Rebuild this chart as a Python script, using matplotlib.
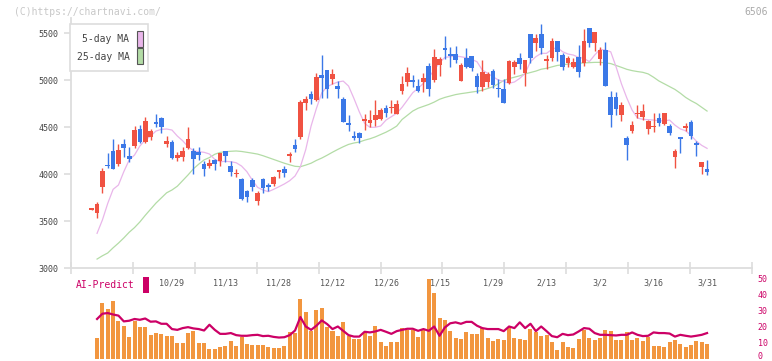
import numpy as np
import matplotlib
matplotlib.use("Agg")
import matplotlib.pyplot as plt
from matplotlib.patches import Rectangle
from matplotlib.transforms import blended_transform_factory, ScaledTranslation

# ==========================
# Data
# ==========================
opens = [3620, 3580, 3865, 4095, 4245, 4105, 4320, 4190, 4300, 4480,
         4340, 4395, 4555, 4600, 4320, 4345, 4175, 4185, 4280, 4245,
         4235, 4105, 4090, 4150, 4140, 4250, 4085, 4000, 3950, 3820,
         3935, 3715, 3945, 3885, 3895, 4025, 4055, 4195, 4310, 4390,
         4760, 4850, 4785, 5055, 5105, 5010, 4935, 4800, 4545, 4405,
         4435, 4565, 4545, 4575, 4585, 4705, 4705, 4640, 4885, 4980,
         5000, 4935, 4980, 5150, 5000, 5165, 5340, 5280, 5280, 4995,
         5235, 5255, 5045, 4930, 4980, 5095, 4920, 4905, 4965, 5140,
         5230, 5075, 5490, 5395, 5490, 5205, 5235, 5415, 5265, 5185,
         5140, 5250, 5180, 5555, 5390, 5225, 5320, 4820, 4820, 4625,
         4380, 4460, 4635, 4610, 4480, 4495, 4595, 4530, 4510, 4185,
         4390, 4490, 4555, 4330, 4075, 4055]
highs = [3635, 3705, 4060, 4225, 4370, 4320, 4370, 4285, 4515, 4520,
         4605, 4480, 4640, 4610, 4405, 4360, 4235, 4285, 4500, 4275,
         4285, 4140, 4165, 4165, 4225, 4250, 4140, 4050, 3960, 3835,
         3955, 3820, 3960, 3905, 3980, 4045, 4080, 4235, 4370, 4785,
         4830, 4885, 5075, 5265, 5105, 5115, 4990, 4820, 4630, 4455,
         4445, 4640, 4680, 4785, 4700, 4735, 4785, 4785, 5045, 5140,
         5055, 5010, 5080, 5180, 5330, 5250, 5470, 5355, 5360, 5185,
         5345, 5255, 5070, 5210, 5090, 5115, 5015, 5010, 5215, 5215,
         5285, 5215, 5490, 5495, 5595, 5265, 5445, 5415, 5290, 5255,
         5235, 5370, 5545, 5555, 5510, 5355, 5400, 4885, 4870, 4765,
         4405, 4565, 4735, 4750, 4580, 4650, 4650, 4650, 4530, 4265,
         4390, 4545, 4580, 4350, 4130, 4150]
lows = [3620, 3535, 3800, 4060, 4055, 4090, 4185, 4130, 4280, 4335,
        4330, 4360, 4505, 4440, 4290, 4160, 4140, 4140, 4265, 4005,
        4150, 3980, 4060, 4045, 4090, 4130, 3980, 3965, 3725, 3705,
        3820, 3665, 3800, 3820, 3870, 3955, 3970, 4130, 4235, 4375,
        4680, 4750, 4775, 4810, 4810, 4955, 4810, 4555, 4460, 4365,
        4335, 4470, 4505, 4510, 4575, 4605, 4645, 4635, 4850, 4935,
        4930, 4870, 4875, 4835, 4980, 5045, 5220, 5140, 5180, 4990,
        5125, 5100, 4865, 4885, 4930, 4910, 4820, 4760, 4955, 5065,
        5115, 4940, 5185, 5310, 5275, 5120, 5205, 5205, 5105, 5135,
        5125, 5035, 5150, 5355, 5310, 5165, 4940, 4495, 4630, 4565,
        4150, 4440, 4595, 4575, 4430, 4445, 4510, 4520, 4415, 4065,
        4225, 4455, 4375, 4190, 4000, 3985]
closes = [3635, 3680, 4030, 4080, 4055, 4255, 4280, 4165, 4470, 4340,
          4565, 4455, 4530, 4505, 4350, 4175, 4200, 4245, 4370, 4165,
          4205, 4055, 4115, 4105, 4225, 4190, 4020, 4010, 3735, 3760,
          3860, 3795, 3855, 3865, 3970, 4045, 4015, 4210, 4270, 4770,
          4800, 4800, 5030, 5025, 4905, 5065, 4905, 4555, 4520, 4385,
          4385, 4585, 4580, 4625, 4685, 4650, 4715, 4750, 4955, 5070,
          4980, 4885, 5020, 4905, 5245, 5225, 5320, 5260, 5210, 5165,
          5140, 5130, 4930, 5085, 5065, 4945, 4905, 4760, 5200, 5190,
          5175, 5215, 5235, 5445, 5340, 5225, 5415, 5300, 5140, 5235,
          5195, 5090, 5410, 5395, 5510, 5320, 4940, 4630, 4690, 4735,
          4310, 4520, 4650, 4670, 4565, 4505, 4545, 4650, 4435, 4250,
          4375, 4510, 4405, 4310, 4130, 4020]

ma5 = [None, 3369, 3511, 3688, 3837, 3883, 4025, 4149, 4202, 4298,
       4362, 4404, 4457, 4475, 4479, 4468, 4404, 4354, 4291, 4248,
       4237, 4231, 4213, 4156, 4131, 4135, 4131, 4120, 4085, 4025,
       3936, 3858, 3830, 3812, 3837, 3865, 3894, 3929, 3979, 4078,
       4260, 4511, 4699, 4865, 4929, 4957, 4979, 4989, 4936, 4805,
       4663, 4539, 4497, 4497, 4511, 4574, 4610, 4646, 4710, 4787,
       4865, 4912, 4965, 5029, 5106, 5184, 5241, 5248, 5255, 5248,
       5237, 5220, 5195, 5106, 5071, 5035, 5000, 4985, 4965, 4979,
       5018, 5071, 5195, 5248, 5284, 5284, 5326, 5348, 5301, 5277,
       5266, 5241, 5231, 5195, 5266, 5326, 5319, 5300, 5140, 4960,
       4810, 4680, 4595, 4582, 4578, 4574, 4566, 4566, 4574, 4520,
       4480, 4460, 4410, 4350, 4305, 4273]
ma25 = [None, 3095, 3130, 3160, 3215, 3265, 3320, 3380, 3430, 3490,
        3560, 3625, 3690, 3745, 3800, 3830, 3870, 3930, 3990, 4055,
        4105, 4150, 4175, 4210, 4230, 4237, 4242, 4245, 4240, 4231,
        4222, 4212, 4195, 4175, 4155, 4135, 4115, 4098, 4082, 4078,
        4095, 4115, 4145, 4170, 4200, 4232, 4262, 4290, 4315, 4330,
        4340, 4360, 4375, 4395, 4420, 4445, 4475, 4510, 4580, 4625,
        4670, 4700, 4720, 4740, 4765, 4795, 4815, 4830, 4845, 4855,
        4863, 4872, 4880, 4892, 4910, 4928, 4960, 4995, 5015, 5030,
        5045, 5065, 5080, 5095, 5115, 5125, 5140, 5155, 5162, 5170,
        5175, 5178, 5182, 5185, 5188, 5188, 5182, 5175, 5155, 5135,
        5114, 5100, 5090, 5082, 5065, 5030, 4990, 4960, 4930, 4900,
        4860, 4815, 4780, 4750, 4710, 4670]

volume = [None, 12.9, 34.5, 31.2, 36.2, 23.6, 20.3, 13.5, 23.2, 19.8,
          19.8, 14.8, 16.1, 15.6, 14.2, 14.2, 9.8, 9.8, 16.1, 16.9,
          9.8, 9.8, 6.0, 6.0, 7.0, 7.9, 11.0, 7.9, 13.3, 9.1,
          8.5, 8.5, 8.5, 7.0, 6.6, 6.6, 7.9, 16.7, 15.9, 37.5,
          28.9, 17.3, 30.5, 31.8, 20.0, 16.9, 14.2, 23.0, 14.2, 12.3,
          12.3, 15.9, 14.2, 20.5, 10.4, 7.9, 10.4, 10.4, 19.0, 17.7,
          17.7, 13.7, 17.7, 50.0, 41.2, 25.5, 24.2, 17.3, 12.9, 12.3,
          16.7, 15.4, 15.4, 19.0, 12.9, 11.0, 12.1, 11.6, 19.8, 12.9,
          12.3, 11.6, 18.6, 16.7, 14.2, 14.6, 10.4, 5.4, 10.4, 7.0,
          6.4, 12.3, 17.9, 12.9, 11.6, 12.9, 17.9, 17.3, 11.6, 11.6,
          16.7, 11.6, 12.9, 11.0, 13.3, 7.9, 7.9, 7.2, 10.4, 11.6,
          9.1, 7.2, 8.5, 11.0, 10.4, 9.1]
ai_predict = [None, 24.7, 28.0, 28.4, 27.5, 26.8, 23.2, 23.6, 24.7, 24.2,
              25.0, 23.0, 23.2, 21.7, 21.7, 18.4, 17.9, 19.0, 19.6, 18.8,
              18.4, 17.5, 21.1, 17.9, 15.4, 15.4, 15.9, 14.6, 14.2, 14.2,
              14.6, 14.8, 14.0, 14.2, 13.5, 13.1, 13.3, 14.6, 17.5, 25.9,
              20.0, 17.9, 20.5, 23.8, 21.5, 18.4, 20.0, 17.3, 14.6, 13.7,
              13.7, 16.7, 16.3, 16.9, 17.9, 16.7, 15.4, 17.1, 17.9, 18.6,
              18.6, 17.3, 18.4, 17.3, 20.0, 14.2, 19.4, 22.0, 22.6, 21.7,
              22.9, 22.9, 20.5, 19.0, 18.4, 18.4, 18.4, 17.1, 20.0, 19.0,
              22.6, 19.0, 21.7, 17.1, 20.0, 17.1, 14.0, 13.3, 15.4, 14.6,
              15.0, 16.9, 19.0, 18.6, 15.9, 14.8, 14.8, 14.6, 14.4, 14.8,
              14.8, 16.3, 14.8, 14.0, 14.2, 16.3, 15.9, 15.9, 15.6, 13.7,
              14.8, 14.2, 13.7, 14.2, 14.8, 15.9]

date_labels = ["10/29", "11/13", "11/28", "12/12", "12/26",
               "1/15", "1/29", "2/13", "3/2", "3/16", "3/31"]
date_index = [15, 25, 35, 45, 55, 65, 75, 85, 95, 105, 115]

price_ticks = [3000, 3500, 4000, 4500, 5000, 5500]
ai_ticks = [0, 10, 20, 30, 40, 50]

# ==========================
# Figure
# ==========================
W, H = 772, 361
fig = plt.figure(figsize=(W / 100, H / 100), dpi=100)
MONO = "DejaVu Sans Mono"

RED = "#f05242"
BLUE = "#3b78e7"
ORANGE = "#f2963f"
MAGENTA = "#cc0066"
PINK = "#e9b6ea"
GREEN = "#b3dca6"
GRID = "#dddddd"


def fx(x):
    return x / W


def fy(y):
    return 1 - y / H


x = np.arange(len(opens))
o = np.array(opens, float)
c = np.array(closes, float)
hi = np.array(highs, float)
lo = np.array(lows, float)
xlim = (-3.87, 123.4)

# ==========================
# Price panel
# ==========================
ax = fig.add_axes([fx(71), fy(268), fx(752) - fx(71), fy(18) - fy(268)])
ax.set_xlim(*xlim)
ax.set_ylim(3000, 5660)

ax.plot(x, np.array(ma25, dtype=float), color=GREEN, lw=0.9, zorder=1)
ax.plot(x, np.array(ma5, dtype=float), color=PINK, lw=0.9, zorder=1)

colors = np.where(c >= o, RED, BLUE)
ax.vlines(x, lo, hi, colors=colors, lw=1.0, zorder=2)
body = np.maximum(np.abs(c - o), 12)
ax.bar(x, body, bottom=np.minimum(o, c), width=0.88, color=colors,
       linewidth=0, zorder=3)

for s in ["top", "right"]:
    ax.spines[s].set_visible(False)
for s in ["left", "bottom"]:
    ax.spines[s].set_color(GRID)
    ax.spines[s].set_linewidth(1.3)
ax.set_yticks(price_ticks)
ax.set_yticklabels([str(v) for v in price_ticks])
ax.tick_params(axis="y", direction="out", length=5, width=1.2, color=GRID,
               labelsize=6, labelcolor="#444444", pad=4)
for t in ax.get_yticklabels():
    t.set_family(MONO)
ax.set_xticks(np.linspace(xlim[0], xlim[1], 12))
ax.set_xticklabels([])
ax.tick_params(axis="x", direction="inout", length=8, width=1.2, color=GRID)

# legend box
fig.patches.append(Rectangle((fx(70), fy(71)), fx(148) - fx(70), fy(24) - fy(71),
                             transform=fig.transFigure, facecolor="white",
                             edgecolor=GRID, lw=1.2, zorder=5))
fig.text(fx(129.5), fy(39), "5-day MA", ha="right", va="center",
         fontsize=7, family=MONO, color="#444444", zorder=6)
fig.text(fx(129.5), fy(56.5), "25-day MA", ha="right", va="center",
         fontsize=7, family=MONO, color="#444444", zorder=6)
fig.patches.append(Rectangle((fx(136.5), fy(46.5)), fx(6), fy(0) - fy(15),
                             transform=fig.transFigure, facecolor=PINK,
                             edgecolor="#555555", lw=0.8, zorder=6))
fig.patches.append(Rectangle((fx(136.5), fy(63.5)), fx(6), fy(0) - fy(15),
                             transform=fig.transFigure, facecolor=GREEN,
                             edgecolor="#555555", lw=0.8, zorder=6))

# ==========================
# Volume / AI-Predict panel
# ==========================
ax2 = fig.add_axes([fx(71), fy(358.5), fx(752) - fx(71), fy(278.5) - fy(358.5)])
ax2.set_xlim(*xlim)
ax2.set_ylim(0, 50)
ax2.bar(x, np.array(volume, dtype=float), width=0.75, color=ORANGE,
        linewidth=0, zorder=1)
ax2.plot(x, np.array(ai_predict, dtype=float), color=MAGENTA, lw=1.6,
         zorder=2)
for s in ax2.spines.values():
    s.set_visible(False)
ax2.set_xticks([])
ax2.yaxis.tick_right()
ax2.set_yticks(ai_ticks)
ax2.set_yticklabels([str(v) for v in ai_ticks])
ax2.tick_params(axis="y", length=0, pad=4, labelsize=6, labelcolor=MAGENTA)
for t in ax2.get_yticklabels():
    t.set_family(MONO)
# keep the bottom "0" inside the picture
zero_lab = ax2.get_yticklabels()[0]
zero_lab.set_transform(zero_lab.get_transform()
                       + ScaledTranslation(0, 3 / 100, fig.dpi_scale_trans))
ax2.patch.set_alpha(0)

trans = blended_transform_factory(ax2.transData, fig.transFigure)
for i, lab in zip(date_index, date_labels):
    ax2.text(i, fy(283), lab, transform=trans, ha="center", va="center",
             fontsize=6, family=MONO, color="#555555")

fig.text(fx(76), fy(285), "AI-Predict", ha="left", va="center",
         fontsize=7, family=MONO, color=MAGENTA)
fig.patches.append(Rectangle((fx(142.5), fy(293)), fx(6.5), fy(0) - fy(16),
                             transform=fig.transFigure, facecolor=MAGENTA,
                             edgecolor="none"))

# header texts
fig.text(fx(14), fy(12), "(C)https://chartnavi.com/", ha="left", va="center",
         fontsize=7, family=MONO, color="#c8c8c8")
fig.text(fx(768), fy(12), "6506", ha="right", va="center",
         fontsize=7, family=MONO, color="#aaaaaa")

fig.savefig("out.png", dpi=100)
